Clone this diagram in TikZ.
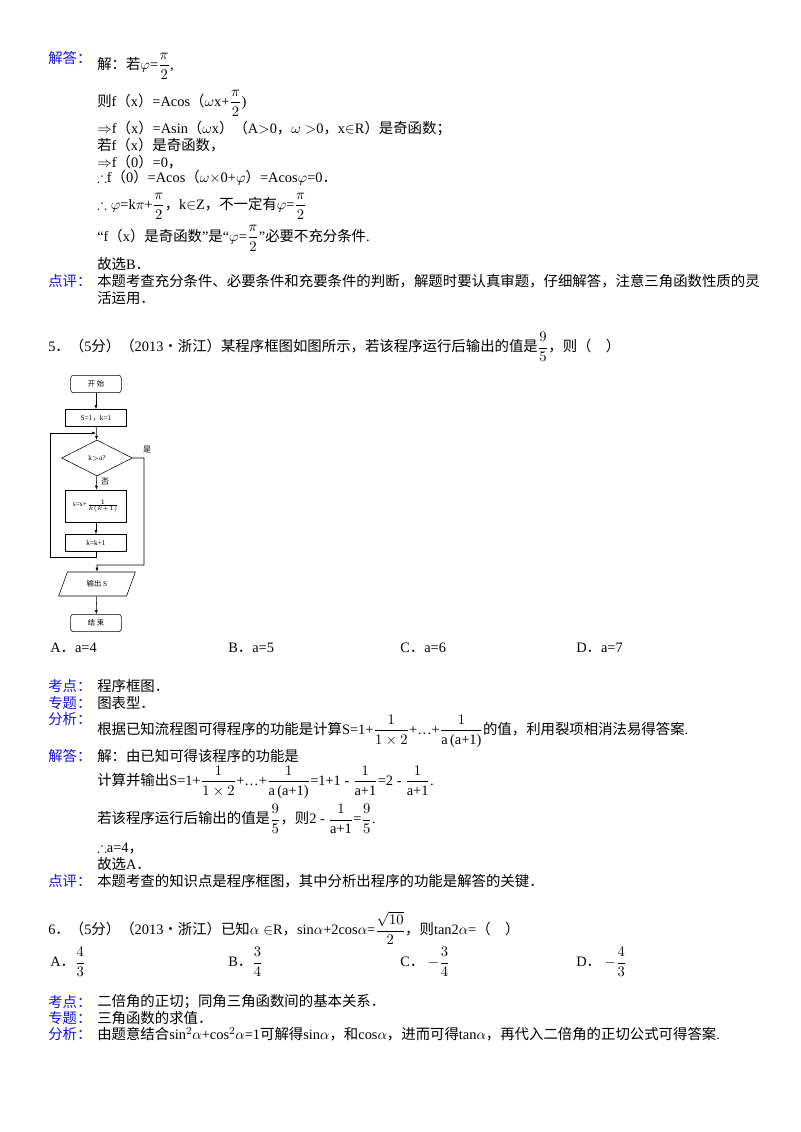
\documentclass[tikz,border=0pt]{standalone}
\usepackage{fontspec}
\usepackage{amsmath,amssymb}
\setmainfont{Liberation Serif}
\newfontfamily\cjk{Noto Sans CJK SC}
\newcommand\zh[1]{{\cjk #1}}
\usetikzlibrary{shapes.geometric,arrows.meta}
\definecolor{lab}{RGB}{20,20,220}
\begin{document}
\begin{tikzpicture}[x=0.75pt,y=-0.75pt,
  t/.style={anchor=west,inner sep=0pt,font=\fontsize{10.8}{12}\selectfont},
  l/.style={t,text=lab},
  fb/.style={draw,rounded corners=2pt,minimum width=46pt,minimum height=13pt,inner sep=1pt,font=\fontsize{5.5}{6}\selectfont,line width=0.4pt},
  ar/.style={-{Latex[length=3pt]},line width=0.4pt}]
\useasboundingbox (0,0) rectangle (800,1132);
\fill[white] (0,0) rectangle (800,1132);
% problem 4 answer
\node[l] (j1) at (48,58) {\zh{解答：}};
\node[t] (a1) at (97,66) {\zh{解：若}$\varphi$=$\dfrac{\pi}{2}$,};
\node[t] (a2) at (97,103) {\zh{则}f\zh{（}x\zh{）}=Acos\zh{（}$\omega$x+$\dfrac{\pi}{2}$)};
\node[t] (a3) at (97,128) {$\Rightarrow$f\zh{（}x\zh{）}=Asin\zh{（}$\omega$x\zh{）（}A$>$0\zh{，}$\omega>$0\zh{，}x$\in$R\zh{）是奇函数；}};
\node[t] (a4) at (97,145) {\zh{若}f\zh{（}x\zh{）是奇函数，}};
\node[t] (a5) at (97,162) {$\Rightarrow$f\zh{（}0\zh{）}=0\zh{，}};
\node[t] (a6) at (97,178) {$\therefore$f\zh{（}0\zh{）}=Acos\zh{（}$\omega\times$0+$\varphi$\zh{）}=Acos$\varphi$=0\zh{．}};
\node[t] (a7) at (97,206) {$\therefore\varphi$=k$\pi$+$\dfrac{\pi}{2}$\zh{，}k$\in$Z\zh{，不一定有}$\varphi$=$\dfrac{\pi}{2}$};
\node[t] (a8) at (97,238) {``f\zh{（}x\zh{）是奇函数}''\zh{是}``$\varphi$=$\dfrac{\pi}{2}$''\zh{必要不充分条件}.};
\node[t] (a9) at (97,264) {\zh{故选}B\zh{．}};
\node[l] (d1) at (48,281) {\zh{点评：}};
\node[t] (a10) at (97,281) {\zh{本题考查充分条件、必要条件和充要条件的判断，解题时要认真审题，仔细解答，注意三角函数性质的灵}};
\node[t] (a11) at (97,298) {\zh{活运用．}};
% problem 5
\node[t] (p5) at (48,347) {5\zh{．（}5\zh{分）（}2013\zh{•浙江）某程序框图如图所示，若该程序运行后输出的值是}$\dfrac{9}{5}$\zh{，则（\quad ）}};
% flowchart
\node[fb,minimum width=38pt] (st) at (96,384) {\zh{开\ 始}};
\node[fb,rounded corners=0pt] (init) at (96,418) {S=1\zh{，}k=1};
\node[draw,diamond,aspect=2,minimum width=53pt,minimum height=27pt,inner sep=0pt,font=\fontsize{5.5}{6}\selectfont,line width=0.4pt] (dia) at (97,458) {k$>$a?};
\node[fb,rounded corners=0pt,minimum height=24pt] (sum) at (96,506) {s=s+$\frac{1}{k(k+1)}$};
\node[fb,rounded corners=0pt] (inc) at (96,543) {k=k+1};
\node[draw,trapezium,trapezium left angle=70,trapezium right angle=110,minimum width=40pt,minimum height=18pt,inner sep=1pt,font=\fontsize{5.5}{6}\selectfont,line width=0.4pt] (out) at (97,584) {\zh{输出} S};
\node[fb,minimum width=38pt] (en) at (96,623) {\zh{结\ 束}};
\coordinate (m1) at (96,433);
\coordinate (m2) at (97,565);
\draw[ar] (st) -- (init);
\draw[ar] (init) -- (dia);
\draw[ar] (dia) -- node[right,font=\fontsize{6}{7}\selectfont,pos=0.4]{\zh{否}} (sum);
\draw[ar] (sum) -- (inc);
\draw[ar] (inc.south) -- ++(0,5) -| (50,433) -- (m1);
\draw[ar] (dia.east) -- node[above right,font=\fontsize{6}{7}\selectfont]{\zh{是}} (144,458) |- (m2) -- (out);
\draw[ar] (out) -- (en);
% options
\node[t] (o1) at (50,648) {A\zh{．}a=4};
\node[t] (o2) at (228,648) {B\zh{．}a=5};
\node[t] (o3) at (400,648) {C\zh{．}a=6};
\node[t] (o4) at (576,648) {D\zh{．}a=7};
\node[l] (k1) at (48,686) {\zh{考点：}};
\node[t] (k2) at (97,686) {\zh{程序框图．}};
\node[l] (z1) at (48,703) {\zh{专题：}};
\node[t] (z2) at (97,703) {\zh{图表型．}};
\node[l] (f1) at (48,719) {\zh{分析：}};
\node[t] (f2) at (97,731) {\zh{根据已知流程图可得程序的功能是计算}S=1+$\dfrac{1}{1\times2}$+\dots+$\dfrac{1}{\text{a\,(a+1)}}$\zh{的值，利用裂项相消法易得答案}.};
\node[l] (j2) at (48,756) {\zh{解答：}};
\node[t] (b1) at (97,756) {\zh{解：由已知可得该程序的功能是}};
\node[t] (b2) at (97,782) {\zh{计算并输出}S=1+$\dfrac{1}{1\times2}$+\dots+$\dfrac{1}{\text{a\,(a+1)}}$=1+1 - $\dfrac{1}{\text{a+1}}$=2 - $\dfrac{1}{\text{a+1}}$.};
\node[t] (b3) at (97,819) {\zh{若该程序运行后输出的值是}$\dfrac{9}{5}$\zh{，则}2 - $\dfrac{1}{\text{a+1}}$=$\dfrac{9}{5}$.};
\node[t] (b4) at (97,848) {$\therefore$a=4\zh{，}};
\node[t] (b5) at (97,864) {\zh{故选}A\zh{．}};
\node[l] (d2) at (48,881) {\zh{点评：}};
\node[t] (b6) at (97,881) {\zh{本题考查的知识点是程序框图，其中分析出程序的功能是解答的关键．}};
% problem 6
\node[t] (p6) at (48,928) {6\zh{．（}5\zh{分）（}2013\zh{•浙江）已知}$\alpha\in$R\zh{，}sin$\alpha$+2cos$\alpha$=$\dfrac{\sqrt{10}}{2}$\zh{，则}tan2$\alpha$=\zh{（\quad ）}};
\node[t] (q1) at (50,962) {A\zh{．}$\dfrac{4}{3}$};
\node[t] (q2) at (228,962) {B\zh{．}$\dfrac{3}{4}$};
\node[t] (q3) at (400,962) {C\zh{．}\ $-\dfrac{3}{4}$};
\node[t] (q4) at (576,962) {D\zh{．}\ $-\dfrac{4}{3}$};
\node[l] (k3) at (48,1002) {\zh{考点：}};
\node[t] (k4) at (97,1002) {\zh{二倍角的正切；同角三角函数间的基本关系．}};
\node[l] (z3) at (48,1018) {\zh{专题：}};
\node[t] (z4) at (97,1018) {\zh{三角函数的求值．}};
\node[l] (f3) at (48,1034) {\zh{分析：}};
\node[t] (f4) at (97,1034) {\zh{由题意结合}sin$^2\alpha$+cos$^2\alpha$=1\zh{可解得}sin$\alpha$\zh{，和}cos$\alpha$\zh{，进而可得}tan$\alpha$\zh{，再代入二倍角的正切公式可得答案}.};
\end{tikzpicture}
\end{document}
